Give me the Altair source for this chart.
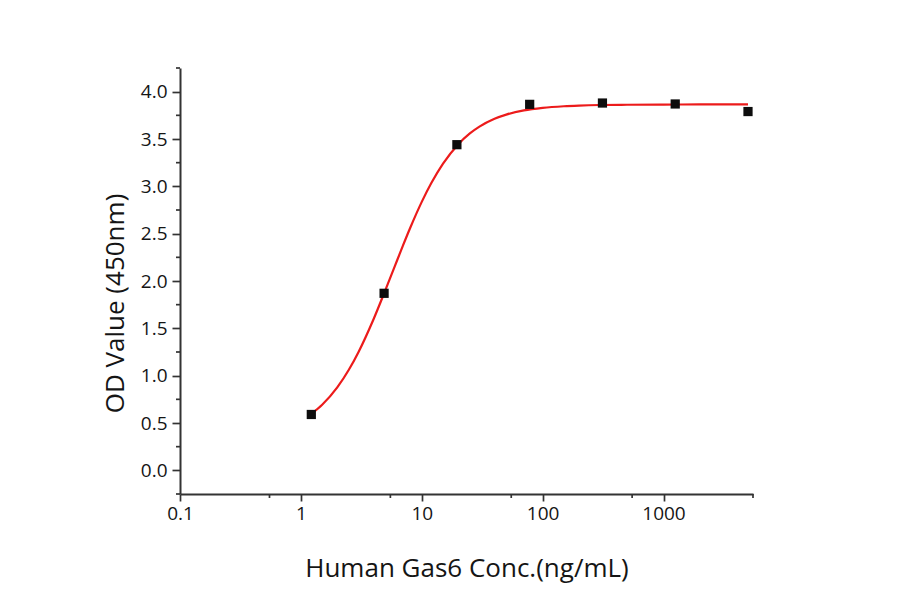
import altair as alt
import pandas as pd

# measured points (concentration ng/mL, OD450)
conc = [1.22, 4.88, 19.53, 78.13, 312.5, 1250, 5000]
od = [0.59, 1.87, 3.44, 3.866, 3.88, 3.87, 3.79]

# fitted curve
curve_x = [1.22, 1.5, 2, 2.5, 3, 4, 5, 6, 7, 8, 10, 12, 15, 20, 25, 30, 40, 50,
           70, 100, 150, 200, 300, 500, 1000, 2000, 5000]
curve_y = [0.596, 0.693, 0.876, 1.065, 1.251, 1.599, 1.903, 2.160, 2.376, 2.557,
           2.836, 3.035, 3.240, 3.443, 3.559, 3.631, 3.714, 3.758, 3.802, 3.829,
           3.846, 3.853, 3.859, 3.862, 3.864, 3.865, 3.865]

x_major = [0.1, 1, 10, 100, 1000]
x_minor = [0.55, 5.5, 55, 550, 5500]
y_major = [0.0, 0.5, 1.0, 1.5, 2.0, 2.5, 3.0, 3.5, 4.0]
y_minor = [-0.25, 0.25, 0.75, 1.25, 1.75, 2.25, 2.75, 3.25, 3.75, 4.25]

pts = pd.DataFrame({"x": conc, "y": od})
crv = pd.DataFrame({"x": curve_x, "y": curve_y})
xmin_df = pd.DataFrame({"x": x_minor})
ymin_df = pd.DataFrame({"y": y_minor})

FONT = "Open Sans"
AX = "#333333"
TXT = "#151515"
W, H = 573, 426

xscale = alt.Scale(type="log", domain=[0.1, 5500], nice=False)
yscale = alt.Scale(domain=[-0.25, 4.25], nice=False, zero=False)

xaxis = alt.Axis(
    values=x_major, format="~g", tickSize=7,
    title="Human Gas6 Conc.(ng/mL)",
    titleFont=FONT, titleFontSize=26, titleFontWeight="normal", titleColor=TXT,
    titleBaseline="alphabetic", titleY=82,
    labelFont=FONT, labelFontSize=19, labelColor=TXT, labelPadding=3,
    labelFlush=False, labelOverlap=False,
    domainColor=AX, domainWidth=2, tickColor=AX, tickWidth=1.7, grid=False,
)
yaxis = alt.Axis(
    values=y_major, format=".1f", tickSize=8,
    title="OD Value (450nm)",
    titleFont=FONT, titleFontSize=26, titleFontWeight="normal", titleColor=TXT,
    titleAngle=270, titleBaseline="alphabetic", titleAlign="center",
    titleX=-57, titleY=235,
    labelFont=FONT, labelFontSize=19, labelColor=TXT, labelPadding=5,
    labelFlush=False, labelOverlap=False,
    domainColor=AX, domainWidth=2, tickColor=AX, tickWidth=1.7, grid=False,
)

line = alt.Chart(crv).mark_line(color="#ec1b1b", strokeWidth=2.2, interpolate="monotone").encode(
    x=alt.X("x:Q", scale=xscale, axis=xaxis),
    y=alt.Y("y:Q", scale=yscale, axis=yaxis),
)
points = alt.Chart(pts).mark_square(color="#0d0d0d", size=85, opacity=1).encode(
    x=alt.X("x:Q", scale=xscale),
    y=alt.Y("y:Q", scale=yscale),
)
xminor = alt.Chart(xmin_df).mark_rule(color=AX, strokeWidth=1.7).encode(
    x=alt.X("x:Q", scale=xscale),
    y=alt.value(H), y2=alt.value(H + 4),
)
yminor = alt.Chart(ymin_df).mark_rule(color=AX, strokeWidth=1.7).encode(
    y=alt.Y("y:Q", scale=yscale),
    x=alt.value(-4), x2=alt.value(0),
)

chart = (line + points + xminor + yminor).properties(
    width=W, height=H,
    autosize="none",
    padding={"left": 172, "top": 60, "right": 120, "bottom": 90},
    background="white",
).configure_view(stroke=None)

chart.save("out.html", embed_options={"renderer": "svg", "actions": False})
